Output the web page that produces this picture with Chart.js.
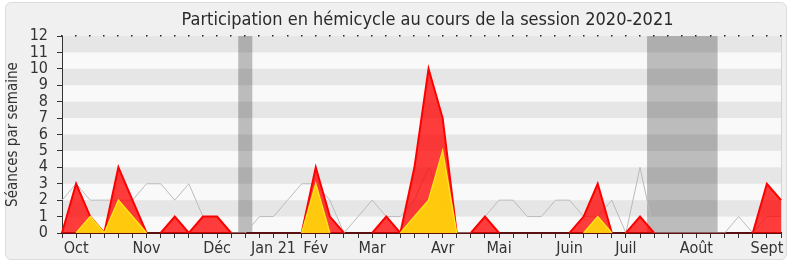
<!DOCTYPE html>
<html>
<head>
<meta charset="utf-8">
<script src="https://cdn.jsdelivr.net/npm/chart.js@4"></script>
<style>
  body { margin: 0; background: #fff; }
  #panel { position: absolute; left: 5px; top: 2px; width: 780px; height: 256px;
           background: #f0f0f0; border: 1px solid #dcdcdc; border-radius: 6px; }
  #c { position: absolute; left: 0; top: 0; }
</style>
</head>
<body>
<div id="panel"></div>
<canvas id="c" width="790" height="267"></canvas>
<script>
// weekly values, Sept 2020 -> Sept 2021 (52 weeks)
const presences = [0,3,1,0,4,2,0,0,1,0,1,1,0,0,0,0,0,0,4,1,0,0,0,1,0,4,10,7,0,0,1,0,0,0,0,0,0,1,3,0,0,1,0,0,0,0,0,0,0,0,3,2];
const interventions = [0,0,1,0,2,1,0,0,0,0,0,0,0,0,0,0,0,0,3,0,0,0,0,0,0,1,2,5,0,0,0,0,0,0,0,0,0,0,1,0,0,0,0,0,0,0,0,0,0,0,0,0];
const mediane = [2,3,2,2,2,2,3,3,2,3,1,1,0,0,1,1,2,3,3,2,0,1,2,1,1,2,4,2,0,0,1,2,2,1,1,2,2,1,1,2,0,4,0,0,0,0,0,0,1,0,1,1];

// month labels and the week they sit on
const monthLabels = ['Oct','Nov','Déc','Jan 21','Fév','Mar','Avr','Mai','Juin','Juil','Août','Sept'];
const monthWeeks  = [1, 6, 11, 15, 18, 22, 27, 31, 36, 40, 45, 50];

// parliamentary holidays, in week units
const vacances = [[12.5, 13.5], [41.5, 46.5]];

const titre = 'Participation en hémicycle au cours de la session 2020-2021';
const FONT = "'DejaVu Sans Condensed', 'Liberation Sans', sans-serif";

const labels = presences.map((_, i) => {
  const k = monthWeeks.indexOf(i);
  return k >= 0 ? monthLabels[k] : '';
});

// hide line segments lying flat on the zero axis
const flatZero = c => (c.p0.parsed.y === 0 && c.p1.parsed.y === 0) ? 'rgba(0,0,0,0)' : undefined;

const backdrop = {
  id: 'backdrop',
  beforeDraw(chart) {
    const { ctx, chartArea: a, scales } = chart;
    const x = scales.x, y = scales.y;
    ctx.save();
    ctx.fillStyle = '#f9f9f9';
    ctx.fillRect(a.left, a.top, a.right - a.left, a.bottom - a.top);
    ctx.fillStyle = '#bcbcbc';
    vacances.forEach(([s, e]) => {
      const x0 = x.getPixelForValue(s), x1 = x.getPixelForValue(e);
      ctx.fillRect(x0, a.top, x1 - x0, a.bottom - a.top);
    });
    ctx.fillStyle = 'rgba(0,0,0,0.075)';
    for (let v = 1; v < 12; v += 2) {
      const y0 = y.getPixelForValue(v + 1), y1 = y.getPixelForValue(v);
      ctx.fillRect(a.left, y0, a.right - a.left, y1 - y0);
    }
    ctx.strokeStyle = '#d4d4d4';
    ctx.lineWidth = 1;
    ctx.beginPath();
    ctx.moveTo(a.right + 0.5, a.top);
    ctx.lineTo(a.right + 0.5, a.bottom);
    ctx.stroke();
    ctx.fillStyle = '#222';
    labels.forEach((_, i) => {
      const px = Math.round(x.getPixelForValue(i));
      ctx.fillRect(px - 1, a.top - 1, 1.5, 1.5);
    });
    ctx.fillStyle = '#2a2a2a';
    ctx.font = '18px ' + FONT;
    ctx.textAlign = 'center';
    ctx.textBaseline = 'alphabetic';
    ctx.fillText(titre, (a.left + a.right) / 2 + 6, 25);
    ctx.restore();
  }
};

new Chart(document.getElementById('c'), {
  type: 'line',
  data: {
    labels: labels,
    datasets: [
      {
        label: 'Interventions',
        data: interventions,
        borderColor: '#ffe31a',
        backgroundColor: 'rgba(255,212,10,0.93)',
        borderWidth: 1.5,
        segment: { borderColor: flatZero },
        fill: 'origin'
      },
      {
        label: 'Présences',
        data: presences,
        borderColor: '#ff0000',
        backgroundColor: 'rgba(255,0,0,0.76)',
        borderWidth: 2,
        segment: { borderColor: flatZero },
        fill: 'origin'
      },
      {
        label: 'Médiane',
        data: mediane,
        borderColor: '#bbbbbb',
        borderWidth: 1,
        fill: false
      }
    ]
  },
  options: {
    responsive: false,
    animation: false,
    layout: { padding: { top: 36, right: 9, left: 0, bottom: 0 } },
    elements: { point: { radius: 0 }, line: { tension: 0 } },
    plugins: { legend: { display: false }, tooltip: { enabled: false } },
    scales: {
      x: {
        z: 1,
        offset: false,
        afterFit: s => { s.height = 34; },
        grid: { drawOnChartArea: false, drawTicks: true, tickLength: 5, color: '#333' },
        border: { color: '#5a1010', width: 2 },
        ticks: { autoSkip: false, maxRotation: 0, padding: 1, color: '#333', font: { family: FONT, size: 16 } }
      },
      y: {
        min: 0,
        max: 12,
        afterFit: s => { s.width = 62; },
        grid: { drawOnChartArea: false, drawTicks: true, tickLength: 5, color: '#333' },
        border: { color: '#333' },
        ticks: { stepSize: 1, autoSkip: false, padding: 9, color: '#333', font: { family: FONT, size: 16 } },
        title: { display: true, text: 'Séances par semaine', color: '#333', font: { family: FONT, size: 15 } }
      }
    }
  },
  plugins: [backdrop]
});
</script>
</body>
</html>
